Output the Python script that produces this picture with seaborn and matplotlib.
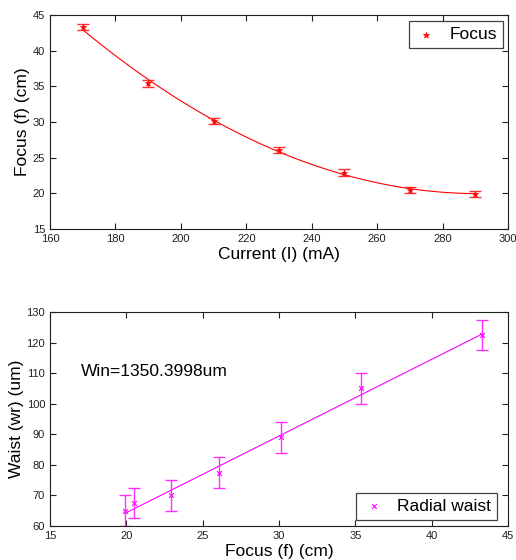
import numpy as np
import pandas as pd
import matplotlib
matplotlib.use("Agg")
import matplotlib.pyplot as plt
import seaborn as sns

# Top panel data
current = [170, 190, 210, 230, 250, 270, 290]
focus = [43.3, 35.4, 30.1, 26.1, 22.9, 20.5, 19.9]
focus_err = [0.45, 0.45, 0.45, 0.45, 0.45, 0.45, 0.45]

# Bottom panel data
focus_b = [19.9, 20.5, 22.9, 26.1, 30.1, 35.4, 43.3]
waist = [65.0, 67.5, 70.0, 77.5, 89.0, 105.0, 122.5]
waist_err = [5, 5, 5, 5, 5, 5, 5]

sns.set_style("ticks")
plt.rcParams['font.family'] = ['Liberation Sans', 'DejaVu Sans']
plt.rcParams['text.color'] = 'black'
plt.rcParams['axes.labelcolor'] = 'black'

fig = plt.figure(figsize=(5.16, 5.6), dpi=100)
ax1 = fig.add_axes([50/516, 1-229/560, 458/516, 214/560])
ax2 = fig.add_axes([50/516, 1-526/560, 458/516, 214/560])

def style(ax):
    for s in ax.spines.values():
        s.set_visible(True)
        s.set_color('#202020')
        s.set_linewidth(0.8)
    ax.tick_params(direction='in', top=True, right=True, labelsize=8,
                   length=4, width=0.8, colors='#202020', labelcolor='#202020')

# top
df1 = pd.DataFrame({'I': current, 'f': focus})
c = np.polyfit(current, focus, 2)
xs = np.linspace(min(current), max(current), 200)
fit1 = pd.DataFrame({'I': xs, 'f': np.polyval(c, xs)})
sns.lineplot(data=fit1, x='I', y='f', ax=ax1, color='red', lw=0.8)
ax1.errorbar(current, focus, yerr=focus_err, fmt='none', ecolor='#ff3030', elinewidth=1.0, capsize=4)
sns.scatterplot(data=df1, x='I', y='f', ax=ax1, marker='*', color='red', s=22,
                edgecolor='red', linewidth=0.4, label='Focus', zorder=5)
ax1.set_xlim(160, 300)
ax1.set_ylim(15, 45)
ax1.set_xticks(range(160, 301, 20))
ax1.set_yticks(range(15, 46, 5))
ax1.set_xlabel('Current (I) (mA)', fontsize=12.5, labelpad=2)
ax1.set_ylabel('Focus (f) (cm)', fontsize=12.5, labelpad=2)
style(ax1)
leg = ax1.legend(loc='upper right', fontsize=12.5, fancybox=False, framealpha=1,
                 edgecolor='#404040', handlelength=1.3, handletextpad=0.7,
                 borderpad=0.35, borderaxespad=0, bbox_to_anchor=(0.989, 0.972))
leg.get_frame().set_linewidth(0.9)

# bottom
df2 = pd.DataFrame({'f': focus_b, 'w': waist})
c2 = np.polyfit(focus_b, waist, 1)
xs2 = np.array([min(focus_b), max(focus_b)])
fit2 = pd.DataFrame({'f': xs2, 'w': np.polyval(c2, xs2)})
sns.lineplot(data=fit2, x='f', y='w', ax=ax2, color='#ff00ff', lw=0.8)
ax2.errorbar(focus_b, waist, yerr=waist_err, fmt='none', ecolor='#ff30ff', elinewidth=1.0, capsize=4)
sns.scatterplot(data=df2, x='f', y='w', ax=ax2, marker='x', color='#ff00ff', s=12,
                linewidth=0.8, label='Radial waist', zorder=5)
ax2.set_xlim(15, 45)
ax2.set_ylim(60, 130)
ax2.set_xticks(range(15, 46, 5))
ax2.set_yticks(range(60, 131, 10))
ax2.set_xlabel('Focus (f) (cm)', fontsize=12.5, labelpad=2)
ax2.set_ylabel('Waist (wr) (um)', fontsize=12.5, labelpad=2)
ax2.text(17.0, 110.4, 'Win=1350.3998um', fontsize=12.5, va='center', ha='left')
style(ax2)
leg2 = ax2.legend(loc='lower right', fontsize=12.5, fancybox=False, framealpha=1,
                  edgecolor='#404040', handlelength=1.3, handletextpad=0.7,
                  borderpad=0.35, borderaxespad=0, bbox_to_anchor=(0.976, 0.028))
leg2.get_frame().set_linewidth(0.9)

fig.savefig('out.png', dpi=100)
